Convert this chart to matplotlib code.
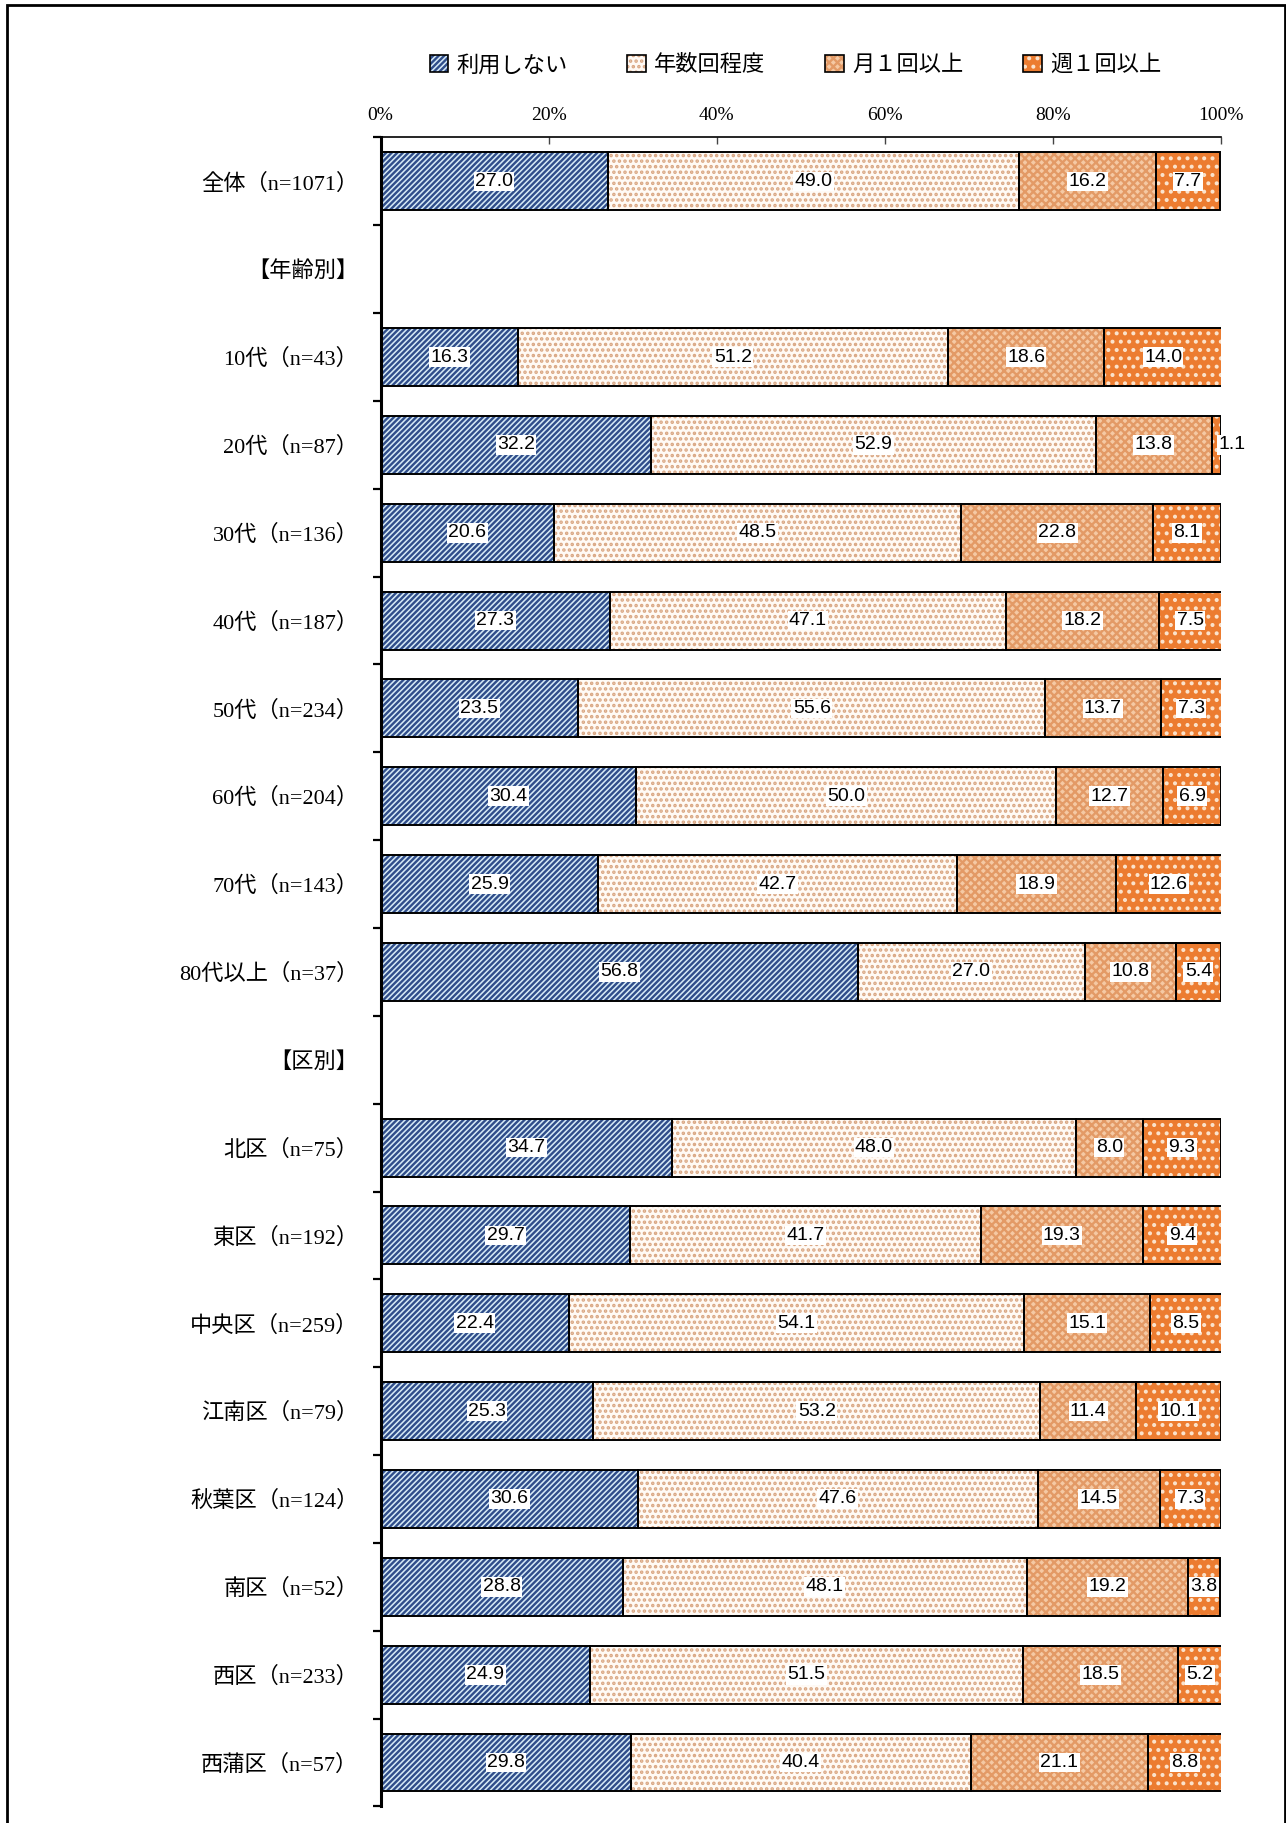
"""
Usage frequency by age group and ward (100% stacked bars)
"""

# ==========================================================
# IMPORT LIBRARIES
# ==========================================================

import numpy as np
import matplotlib
matplotlib.use("Agg")
import matplotlib.pyplot as plt
from matplotlib.patches import Patch, Rectangle
from matplotlib.legend_handler import HandlerTuple
from matplotlib.ticker import FixedLocator

# ==========================================================
# DATA
# ==========================================================

CATEGORIES = [
    "全体（n=1071）",
    "【年齢別】",
    "10代（n=43）",
    "20代（n=87）",
    "30代（n=136）",
    "40代（n=187）",
    "50代（n=234）",
    "60代（n=204）",
    "70代（n=143）",
    "80代以上（n=37）",
    "【区別】",
    "北区（n=75）",
    "東区（n=192）",
    "中央区（n=259）",
    "江南区（n=79）",
    "秋葉区（n=124）",
    "南区（n=52）",
    "西区（n=233）",
    "西蒲区（n=57）",
]

SERIES = ["利用しない", "年数回程度", "月１回以上", "週１回以上"]

NOT_USED = [27.0, np.nan, 16.3, 32.2, 20.6, 27.3, 23.5, 30.4, 25.9, 56.8,
            np.nan, 34.7, 29.7, 22.4, 25.3, 30.6, 28.8, 24.9, 29.8]
FEW_PER_YEAR = [49.0, np.nan, 51.2, 52.9, 48.5, 47.1, 55.6, 50.0, 42.7, 27.0,
                np.nan, 48.0, 41.7, 54.1, 53.2, 47.6, 48.1, 51.5, 40.4]
MONTHLY = [16.2, np.nan, 18.6, 13.8, 22.8, 18.2, 13.7, 12.7, 18.9, 10.8,
           np.nan, 8.0, 19.3, 15.1, 11.4, 14.5, 19.2, 18.5, 21.1]
WEEKLY = [7.7, np.nan, 14.0, 1.1, 8.1, 7.5, 7.3, 6.9, 12.6, 5.4,
          np.nan, 9.3, 9.4, 8.5, 10.1, 7.3, 3.8, 5.2, 8.8]

X_TICKS = [0, 20, 40, 60, 80, 100]

# ==========================================================
# STYLE
# ==========================================================

FACE = ["#d6eaf6", "#fffaf5", "#f5c9a4", "#ec7c30"]
HATCH_COLOR = ["#2f4d8a", "#d9a682", "#e39a66", "#fbe3cc"]
HATCH = ["//////", "...", "xxxx", ".."]

SERIF = ["Liberation Serif", "Noto Sans CJK JP", "DejaVu Sans"]
SANS = ["Liberation Sans", "DejaVu Sans"]

plt.rcParams["hatch.linewidth"] = 1.7

# ==========================================================
# DRAW
# ==========================================================

def draw_chart():

    fig = plt.figure(figsize=(12.86, 18.23), dpi=100)

    ax = fig.add_axes([0.296, 0.0091, 0.6535, 0.9155])

    values = [NOT_USED, FEW_PER_YEAR, MONTHLY, WEEKLY]

    y = np.arange(len(CATEGORIES))

    left = np.zeros(len(CATEGORIES))

    for k, series in enumerate(values):

        data = np.array(series, dtype=float)

        width = np.nan_to_num(data)

        # fill + hatch
        ax.barh(
            y, width, left=left, height=0.66,
            color=FACE[k], edgecolor=HATCH_COLOR[k],
            hatch=HATCH[k], linewidth=0, zorder=2
        )

        # black outline
        ax.barh(
            y, width, left=left, height=0.66,
            fill=False, edgecolor="black",
            linewidth=1.4, zorder=3
        )

        for i, v in enumerate(data):

            if np.isnan(v):
                continue

            xpos = left[i] + v / 2

            if v < 2:
                xpos = left[i] + v + 1.3

            ax.text(
                xpos, y[i], f"{v:.1f}",
                ha="center", va="center",
                fontsize=14, family=SANS, zorder=4,
                bbox=dict(facecolor="white", edgecolor="none", pad=1.0)
            )

        left = left + width

    # ------------------------------------------------------
    # axes
    # ------------------------------------------------------

    ax.set_xlim(0, 100)
    ax.set_ylim(len(CATEGORIES) - 0.5, -0.5)

    ax.xaxis.tick_top()
    ax.set_xticks(X_TICKS)
    ax.set_xticklabels([f"{t}%" for t in X_TICKS], family=SERIF, fontsize=14)
    ax.tick_params(axis="x", direction="in", length=5, width=1,
                   pad=10, color="#444444")

    ax.set_yticks(y)
    ax.set_yticklabels(CATEGORIES, family=SERIF, fontsize=16)
    ax.tick_params(axis="y", which="major", length=0, pad=16)

    ax.yaxis.set_minor_locator(FixedLocator(np.arange(-0.5, len(CATEGORIES), 1.0)))
    ax.tick_params(axis="y", which="minor", direction="out",
                   length=6, width=1.6)

    ax.spines["right"].set_visible(False)
    ax.spines["bottom"].set_visible(False)
    ax.spines["top"].set_linewidth(1.2)
    ax.spines["left"].set_linewidth(2.2)

    # ------------------------------------------------------
    # legend
    # ------------------------------------------------------

    handles = []

    for k in range(len(SERIES)):

        handles.append((
            Patch(facecolor=FACE[k], edgecolor=HATCH_COLOR[k],
                  hatch=HATCH[k], linewidth=0),
            Patch(fill=False, edgecolor="black", linewidth=1.2)
        ))

    fig.legend(
        handles, SERIES,
        handler_map={tuple: HandlerTuple(ndivide=1, pad=0)},
        loc="center", bbox_to_anchor=(0.6185, 0.9645),
        ncol=4, frameon=False,
        prop={"family": ["Noto Sans CJK JP", "DejaVu Sans"], "size": 16},
        handlelength=0.85, handleheight=0.85,
        handletextpad=0.35, columnspacing=2.7
    )

    # ------------------------------------------------------
    # outer frame
    # ------------------------------------------------------

    fig.add_artist(Rectangle(
        (7 / 1286, -0.01), 1278 / 1286, 1.01 - 5 / 1823,
        transform=fig.transFigure, fill=False,
        edgecolor="black", linewidth=2
    ))

    fig.savefig("out.png", dpi=100)

    plt.close(fig)


# ==========================================================
# MAIN
# ==========================================================

def main():

    draw_chart()


if __name__ == "__main__":

    main()
